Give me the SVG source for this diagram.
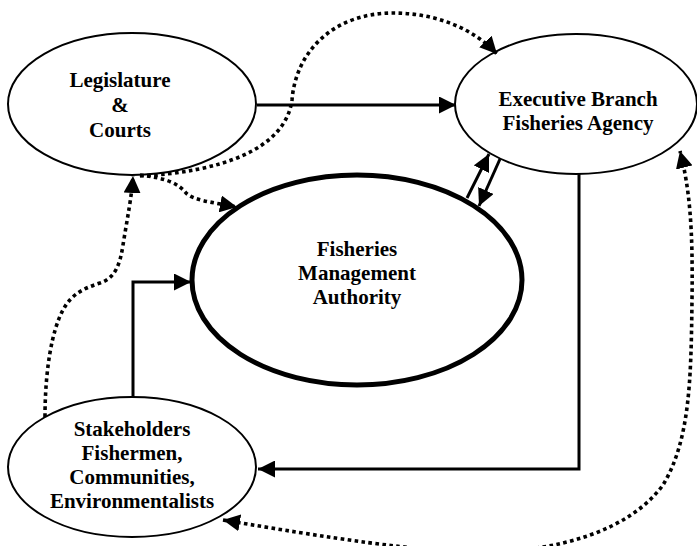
<svg xmlns="http://www.w3.org/2000/svg" width="697" height="546" viewBox="0 0 697 546">
<style>
.node{fill:#fff;stroke:#000;stroke-width:2}
.main{fill:#fff;stroke:#000;stroke-width:5}
.t{font-family:"Liberation Serif","Times New Roman",serif;font-weight:bold;font-size:21px;fill:#000;text-anchor:middle}
.solid{fill:none;stroke:#000;stroke-width:3}
.dot{fill:none;stroke:#000;stroke-width:3.6;stroke-dasharray:3.6 3.4}
</style>
<defs>
<marker id="ah" markerUnits="userSpaceOnUse" markerWidth="18" markerHeight="17" refX="17" refY="8.5" orient="auto-start-reverse" viewBox="0 0 18 17">
<path d="M0,0 L17,8.5 L0,17 z" fill="#000"/>
</marker>
</defs>
<rect width="697" height="546" fill="#fff"/>
<g id="fma">
<ellipse class="main" cx="357" cy="280" rx="165" ry="105"/>
<text class="t" x="357" y="256">Fisheries</text>
<text class="t" x="357" y="280">Management</text>
<text class="t" x="357" y="304">Authority</text>
</g>
<g id="legislature">
<ellipse class="node" cx="132" cy="104" rx="124" ry="71"/>
<text class="t" x="120" y="87">Legislature</text>
<text class="t" x="120" y="112">&amp;</text>
<text class="t" x="120" y="137">Courts</text>
</g>
<g id="executive">
<ellipse class="node" cx="576" cy="104" rx="121" ry="70"/>
<text class="t" x="578" y="106">Executive Branch</text>
<text class="t" x="578" y="130">Fisheries Agency</text>
</g>
<g id="stakeholders">
<ellipse class="node" cx="132" cy="467" rx="124" ry="70"/>
<text class="t" x="132" y="436">Stakeholders</text>
<text class="t" x="132" y="460">Fishermen,</text>
<text class="t" x="132" y="484">Communities,</text>
<text class="t" x="132" y="508">Environmentalists</text>
</g>
<g id="connectors">
<path class="solid" d="M257,105 L456,105" marker-end="url(#ah)"/>
<path class="solid" d="M467,198 L489,154" marker-end="url(#ah)"/>
<path class="solid" d="M500,159 L479,206" marker-end="url(#ah)"/>
<path class="solid" d="M579,174 L579,469 L258,469" marker-end="url(#ah)"/>
<path class="solid" d="M133,397 L133,282 L191,282" marker-end="url(#ah)"/>
<path class="dot" d="M140,176 C220,172 285,150 292,100 C296,50 335,13 393,13 C430,13 470,25 497,54" marker-end="url(#ah)"/>
<path class="dot" d="M140,175 C165,178 178,183 186,193 C193,200 210,202 237,207" marker-end="url(#ah)"/>
<path class="dot" d="M45,417 C45,370 52,330 63,310 C72,293 85,288 100,283 C115,278 120,265 123,245 C127,220 132,195 133,176" marker-end="url(#ah)"/>
<path class="dot" d="M223,520 C330,538 420,552 480,552 C560,552 630,530 663,485 C690,440 691,380 692,300 C693,230 690,190 680,151" marker-start="url(#ah)" marker-end="url(#ah)"/>
</g>
</svg>
